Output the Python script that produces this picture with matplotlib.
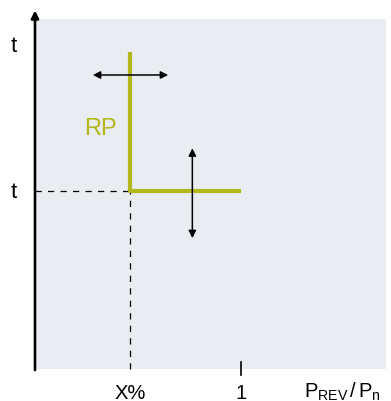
import matplotlib
matplotlib.use("Agg")
import matplotlib.pyplot as plt
from matplotlib.patches import Rectangle

plt.rcParams["font.family"] = ["Liberation Sans", "DejaVu Sans"]
plt.rcParams["mathtext.fontset"] = "custom"
plt.rcParams["mathtext.rm"] = "Liberation Sans"
plt.rcParams["mathtext.it"] = "Liberation Sans"

# data (x in units of P_REV/P_n, y in units of t)
x_pct = 0.46
rp_x = [x_pct, x_pct, 1.0]
rp_y = [1.78, 1.0, 1.0]
x_tick_pos = [x_pct, 1.0]
x_tick_labels = ["X%", "1"]
t_label_y = [1.815, 1.0]
h_arrow_x = [0.28, 0.645]
h_arrow_y = 1.652
v_arrow_x = 0.762
v_arrow_y = [1.24, 0.735]

green = "#b2b71c"
bg = "#e9ecf0"

fig = plt.figure(figsize=(3.91, 4.02), dpi=100)
ax = fig.add_axes([0, 0, 1, 1])
ax.set_xlim(-0.1695, 1.724)
ax.set_ylim(-0.180, 2.079)
ax.axis("off")

# grey plot area
ax.add_patch(Rectangle((0, 0), 1.70, 1.966, facecolor=bg, edgecolor="none", zorder=0))

# axes with arrow heads
ax.annotate("", xy=(0, 2.015), xytext=(0, -0.006),
            arrowprops=dict(arrowstyle="-|>", color="black", lw=1.9, mutation_scale=11,
                            shrinkA=0, shrinkB=0))
ax.annotate("", xy=(1.73, 0), xytext=(-0.006, 0),
            arrowprops=dict(arrowstyle="-|>", color="black", lw=1.9, mutation_scale=11,
                            shrinkA=0, shrinkB=0))

# dashed guides
ax.plot([0, x_pct], [1.0, 1.0], color="black", lw=0.9, dashes=(5, 5), zorder=2)
ax.plot([x_pct, x_pct], [0, 1.0], color="black", lw=0.9, dashes=(5, 5), zorder=2)

# tick at 1
ax.plot([1.0, 1.0], [-0.035, 0.04], color="black", lw=1.2)

# RP curve
ax.plot(rp_x, rp_y, color=green, lw=3, solid_capstyle="butt", zorder=3)
ax.text(x_pct - 0.065, 1.355, "RP", color=green, fontsize=17, ha="right", va="center")

# double arrows
ax.annotate("", xy=(h_arrow_x[0], h_arrow_y), xytext=(h_arrow_x[1], h_arrow_y),
            arrowprops=dict(arrowstyle="<|-|>", color="black", lw=1.1, mutation_scale=11,
                            shrinkA=0, shrinkB=0), zorder=4)
ax.annotate("", xy=(v_arrow_x, v_arrow_y[0]), xytext=(v_arrow_x, v_arrow_y[1]),
            arrowprops=dict(arrowstyle="<|-|>", color="black", lw=1.1, mutation_scale=11,
                            shrinkA=0, shrinkB=0), zorder=4)

# labels
for y in t_label_y:
    ax.text(-0.105, y, "t", fontsize=16, ha="center", va="center")
for x, lab in zip(x_tick_pos, x_tick_labels):
    ax.text(x, -0.13, lab, fontsize=14.5, ha="center", va="center")
ax.text(1.305, -0.125, r"$\mathregular{P_{REV}\,/\,P_n}$", fontsize=14.5, ha="left", va="center")

fig.savefig("out.png", dpi=100)
